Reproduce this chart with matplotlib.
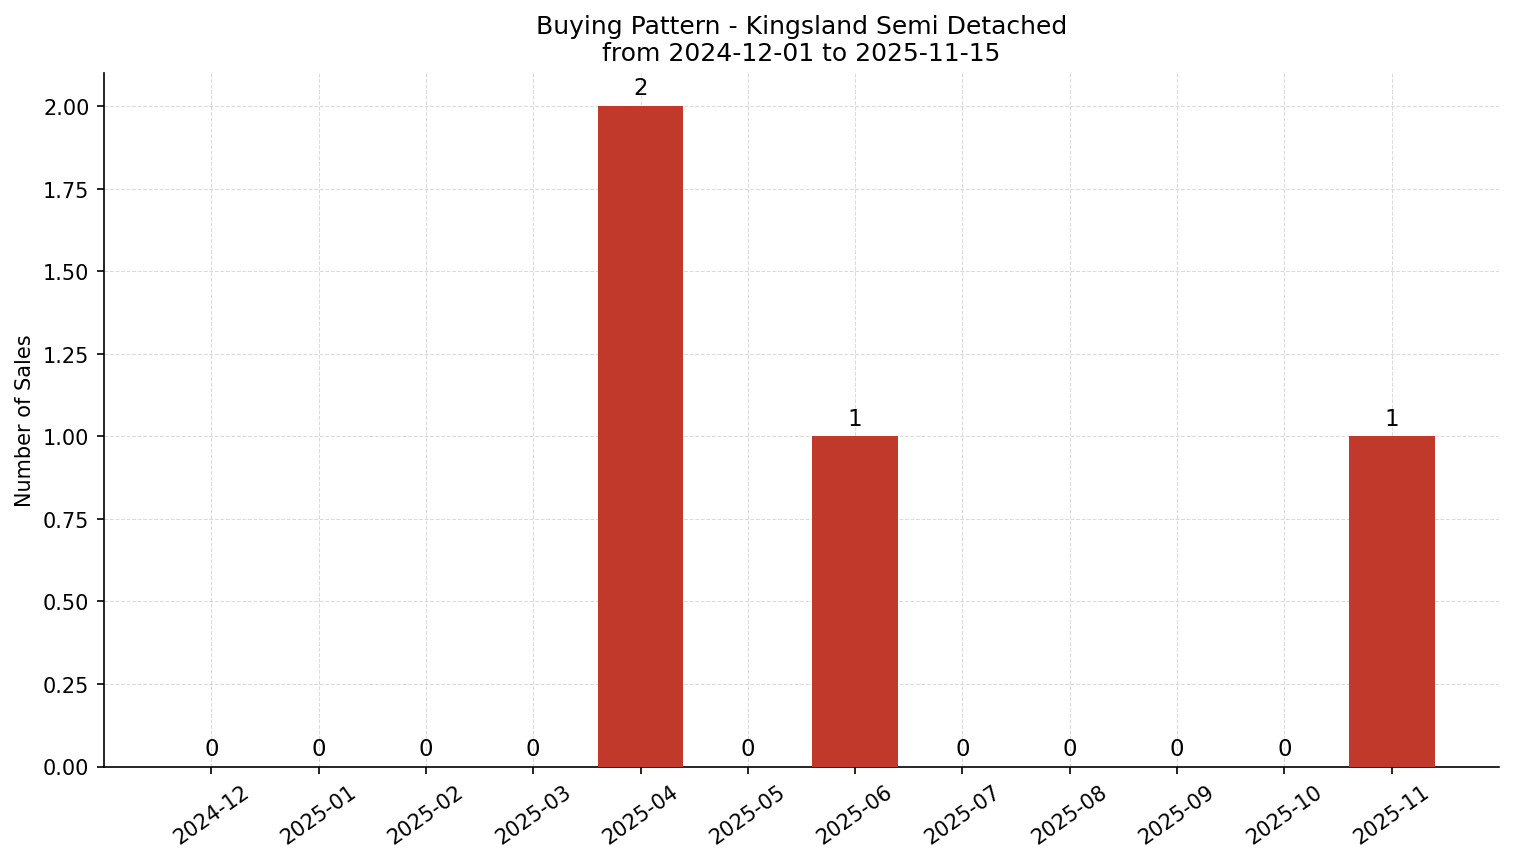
import matplotlib
matplotlib.use("Agg")
import matplotlib.pyplot as plt
import numpy as np

months = ["2024-12", "2025-01", "2025-02", "2025-03", "2025-04", "2025-05",
          "2025-06", "2025-07", "2025-08", "2025-09", "2025-10", "2025-11"]
sales = [0, 0, 0, 0, 2, 0, 1, 0, 0, 0, 0, 1]

fig, ax = plt.subplots(figsize=(10.093, 5.753), dpi=150)
x = np.arange(len(months))
bars = ax.bar(x, sales, width=0.8, color="#c0392b", zorder=3)

# value labels above each bar
for xi, v in zip(x, sales):
    ax.text(xi, v + 0.02, f"{v}", ha="center", va="bottom", fontsize=11, zorder=4)

ax.set_xticks(x)
ax.set_xticklabels(months, rotation=35, ha="center")
ax.set_xlim(-1, 12)
ax.set_ylim(0, 2.1)
ax.set_yticks(np.arange(0, 2.01, 0.25))
ax.yaxis.set_major_formatter(matplotlib.ticker.FormatStrFormatter("%.2f"))
ax.set_ylabel("Number of Sales")
ax.set_title("Buying Pattern - Kingsland Semi Detached\nfrom 2024-12-01 to 2025-11-15", fontsize=12)
ax.grid(True, linestyle="--", linewidth=0.5, color="#cccccc", alpha=0.7, zorder=0)
ax.spines["top"].set_visible(False)
ax.spines["right"].set_visible(False)

plt.subplots_adjust(left=104/1514, right=1499/1514, top=1-74/863, bottom=1-767.5/863)
plt.savefig("out.png", dpi=150)
plt.close()
